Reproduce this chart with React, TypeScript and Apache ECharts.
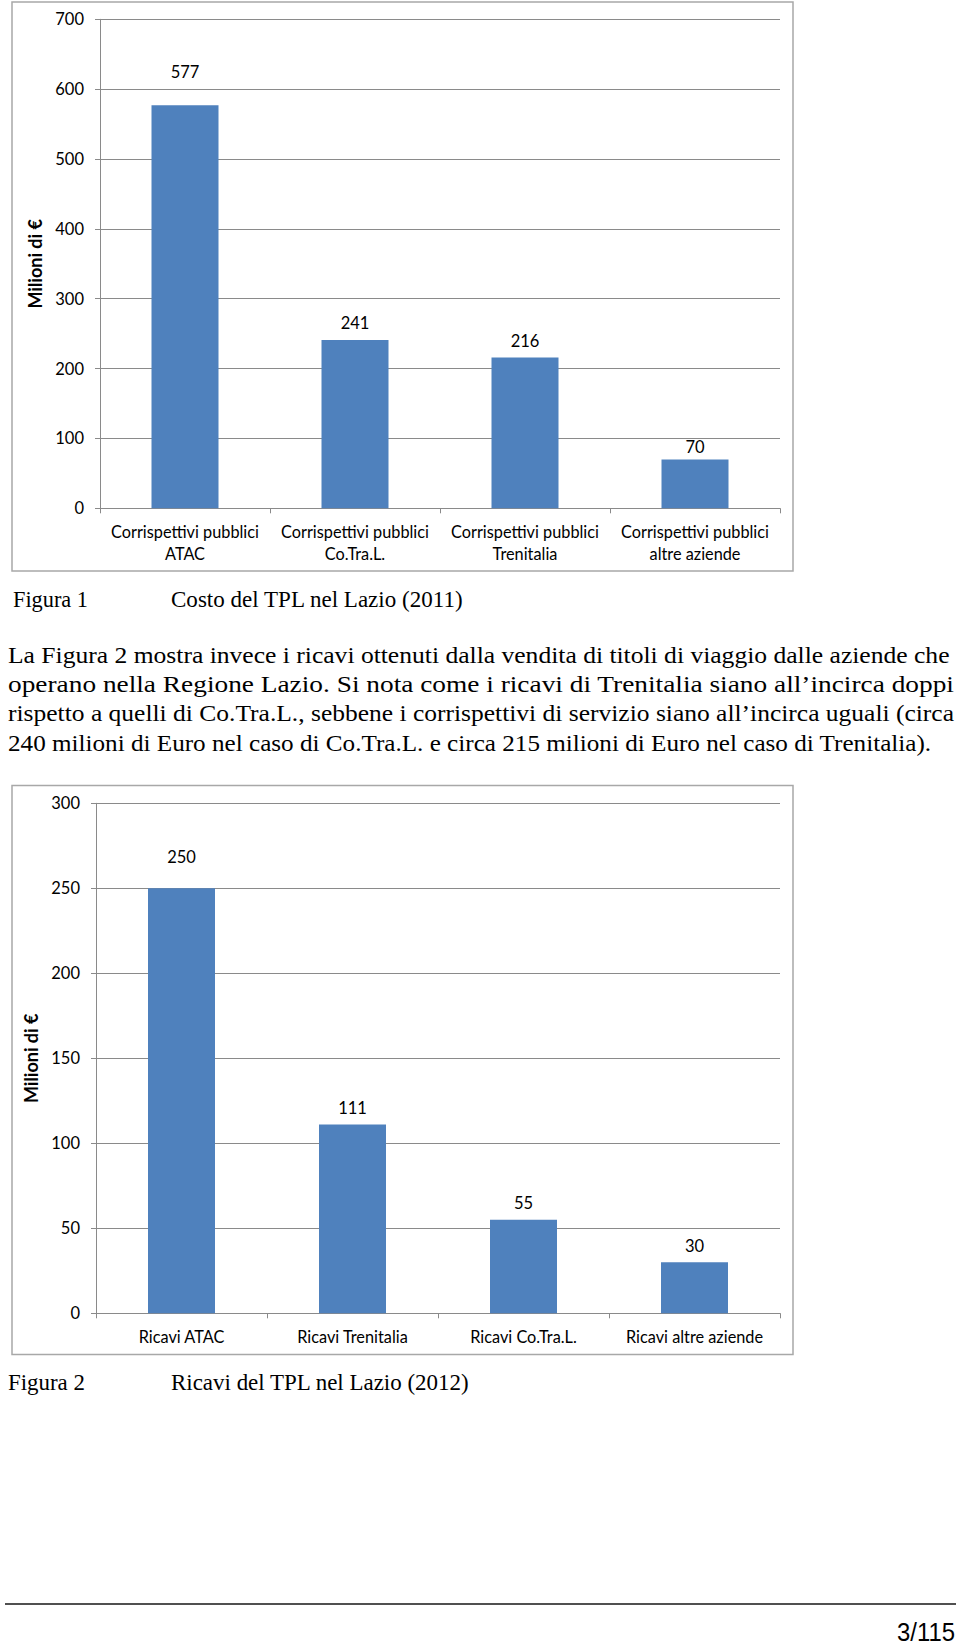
import React, { useEffect, useRef } from "react";
import * as echarts from "echarts";

// ---------- data ----------
const categories1 = [
  "Corrispettivi pubblici\nATAC",
  "Corrispettivi pubblici\nCo.Tra.L.",
  "Corrispettivi pubblici\nTrenitalia",
  "Corrispettivi pubblici\naltre aziende",
];
const values1 = [577, 241, 216, 70];
const yMin1 = 0;
const yMax1 = 700;
const yStep1 = 100;

const categories2 = ["Ricavi ATAC", "Ricavi Trenitalia", "Ricavi Co.Tra.L.", "Ricavi altre aziende"];
const values2 = [250, 111, 55, 30];
const yMin2 = 0;
const yMax2 = 300;
const yStep2 = 50;

const yAxisTitle = "Milioni di €";
const figure1Label = "Figura 1";
const figure1Title = "Costo del TPL nel Lazio (2011)";
const figure2Label = "Figura 2";
const figure2Title = "Ricavi del TPL nel Lazio (2012)";
const paragraphLines = [
  "La Figura 2 mostra invece i ricavi ottenuti dalla vendita di titoli di viaggio dalle aziende che",
  "operano nella Regione Lazio. Si nota come i ricavi di Trenitalia siano all\u2019incirca doppi",
  "rispetto a quelli di Co.Tra.L., sebbene i corrispettivi di servizio siano all\u2019incirca uguali (circa",
  "240 milioni di Euro nel caso di Co.Tra.L. e circa 215 milioni di Euro nel caso di Trenitalia).",
];
const pageNumber = "3/115";

// ---------- styling (not data) ----------
const labelGap1 = [25, 8, 8, 4];
const labelGap2 = [23, 8, 8, 8];
const BAR = "#4F81BD";
const GRID_LINE = "#8a8a8a";
const BORDER = "#a8a8a8";
const SANS = "Lato, 'Open Sans', sans-serif";
const SERIF = "'Liberation Serif', 'Times New Roman', serif";
const SERIF_SIZE = 23.5;

function measure(text: string, font: string): number {
  const c = document.createElement("canvas").getContext("2d");
  if (!c) return 0;
  c.font = font;
  return c.measureText(text).width;
}

function fitText(
  text: string,
  x: number,
  y: number,
  width: number,
  fontSize: number,
  family: string,
  align: "left" | "right" = "left",
  lineHeight?: number
) {
  const font = `${fontSize}px ${family}`;
  const w = measure(text, font);
  const s = w > 0 ? width / w : 1;
  const style: any = {
    text,
    fontSize,
    fontFamily: family,
    fill: "#000",
    align,
    verticalAlign: "middle",
  };
  if (lineHeight) style.lineHeight = lineHeight;
  return { type: "text", x, y, scaleX: s, style };
}

function makeXAxis(gridIndex: number, data: string[], margin: number) {
  return {
    type: "category",
    gridIndex,
    data,
    axisLine: { show: true, lineStyle: { color: GRID_LINE, width: 1 } },
    axisTick: { show: true, length: 5, lineStyle: { color: GRID_LINE } },
    axisLabel: {
      interval: 0,
      margin,
      fontFamily: SANS,
      fontSize: 16.3,
      lineHeight: 21.5,
      color: "#000",
    },
    splitLine: { show: false },
  };
}

function makeYAxis(gridIndex: number, min: number, max: number, step: number, nameGap: number) {
  return {
    type: "value",
    gridIndex,
    min,
    max,
    interval: step,
    name: yAxisTitle,
    nameLocation: "middle",
    nameRotate: 90,
    nameGap,
    nameTextStyle: { fontFamily: SANS, fontSize: 18, fontWeight: "bold", color: "#000" },
    axisLine: { show: true, lineStyle: { color: GRID_LINE, width: 1 } },
    axisTick: { show: true, length: 5, lineStyle: { color: GRID_LINE } },
    axisLabel: { margin: 16, fontFamily: SANS, fontSize: 16.5, color: "#000" },
    splitLine: { show: true, lineStyle: { color: GRID_LINE, width: 1 } },
  };
}

function makeSeries(idx: number, values: number[], gaps: number[]) {
  return {
    type: "bar",
    xAxisIndex: idx,
    yAxisIndex: idx,
    barWidth: 67,
    itemStyle: { color: BAR },
    label: {
      show: true,
      position: "top",
      fontFamily: SANS,
      fontSize: 16.5,
      color: "#000",
    },
    data: values.map((v, i) => ({ value: v, label: { distance: gaps[i] } })),
  };
}

export default function App() {
  const ref = useRef<HTMLDivElement>(null);

  useEffect(() => {
    if (!ref.current) return;
    const chart = echarts.init(ref.current, null, { renderer: "svg" });

    const paraTargets = [942, 947, 947, 924];
    const paraY = [655.3, 684.3, 713.3, 742.3];

    const graphic: any[] = [
      {
        type: "rect",
        shape: { x: 12, y: 2, width: 781, height: 569 },
        style: { fill: "none", stroke: BORDER, lineWidth: 1.5 },
        z: -1,
      },
      {
        type: "rect",
        shape: { x: 12, y: 785.5, width: 781, height: 569 },
        style: { fill: "none", stroke: BORDER, lineWidth: 1.5 },
        z: -1,
      },
      fitText(figure1Label, 13, 599.3, 75, SERIF_SIZE, SERIF),
      fitText(figure1Title, 171, 599.3, 293, SERIF_SIZE, SERIF),
      fitText(figure2Label, 8, 1382.3, 77, SERIF_SIZE, SERIF),
      fitText(figure2Title, 171, 1382.3, 299, SERIF_SIZE, SERIF),
      ...paragraphLines.map((t, i) => fitText(t, 8, paraY[i], paraTargets[i], SERIF_SIZE, SERIF)),
      {
        type: "line",
        shape: { x1: 5, y1: 1604, x2: 956, y2: 1604 },
        style: { stroke: "#505050", lineWidth: 2 },
      },
      fitText(
        pageNumber,
        955,
        1631.5,
        58,
        26,
        "'Liberation Sans Narrow', 'Liberation Sans', Arial, sans-serif",
        "right",
        20
      ),
    ];

    chart.setOption({
      animation: false,
      backgroundColor: "#fff",
      grid: [
        { left: 100, top: 19.3, width: 680, height: 489 },
        { left: 96, top: 803.3, width: 684, height: 510 },
      ],
      xAxis: [makeXAxis(0, categories1, 12.5), makeXAxis(1, categories2, 12)],
      yAxis: [makeYAxis(0, yMin1, yMax1, yStep1, 54), makeYAxis(1, yMin2, yMax2, yStep2, 50)],
      series: [makeSeries(0, values1, labelGap1), makeSeries(1, values2, labelGap2)],
      graphic,
    });

    return () => chart.dispose();
  }, []);

  return (
    <div
      ref={ref}
      style={{ position: "absolute", left: 0, top: 0, width: 960, height: 1646 }}
    />
  );
}
